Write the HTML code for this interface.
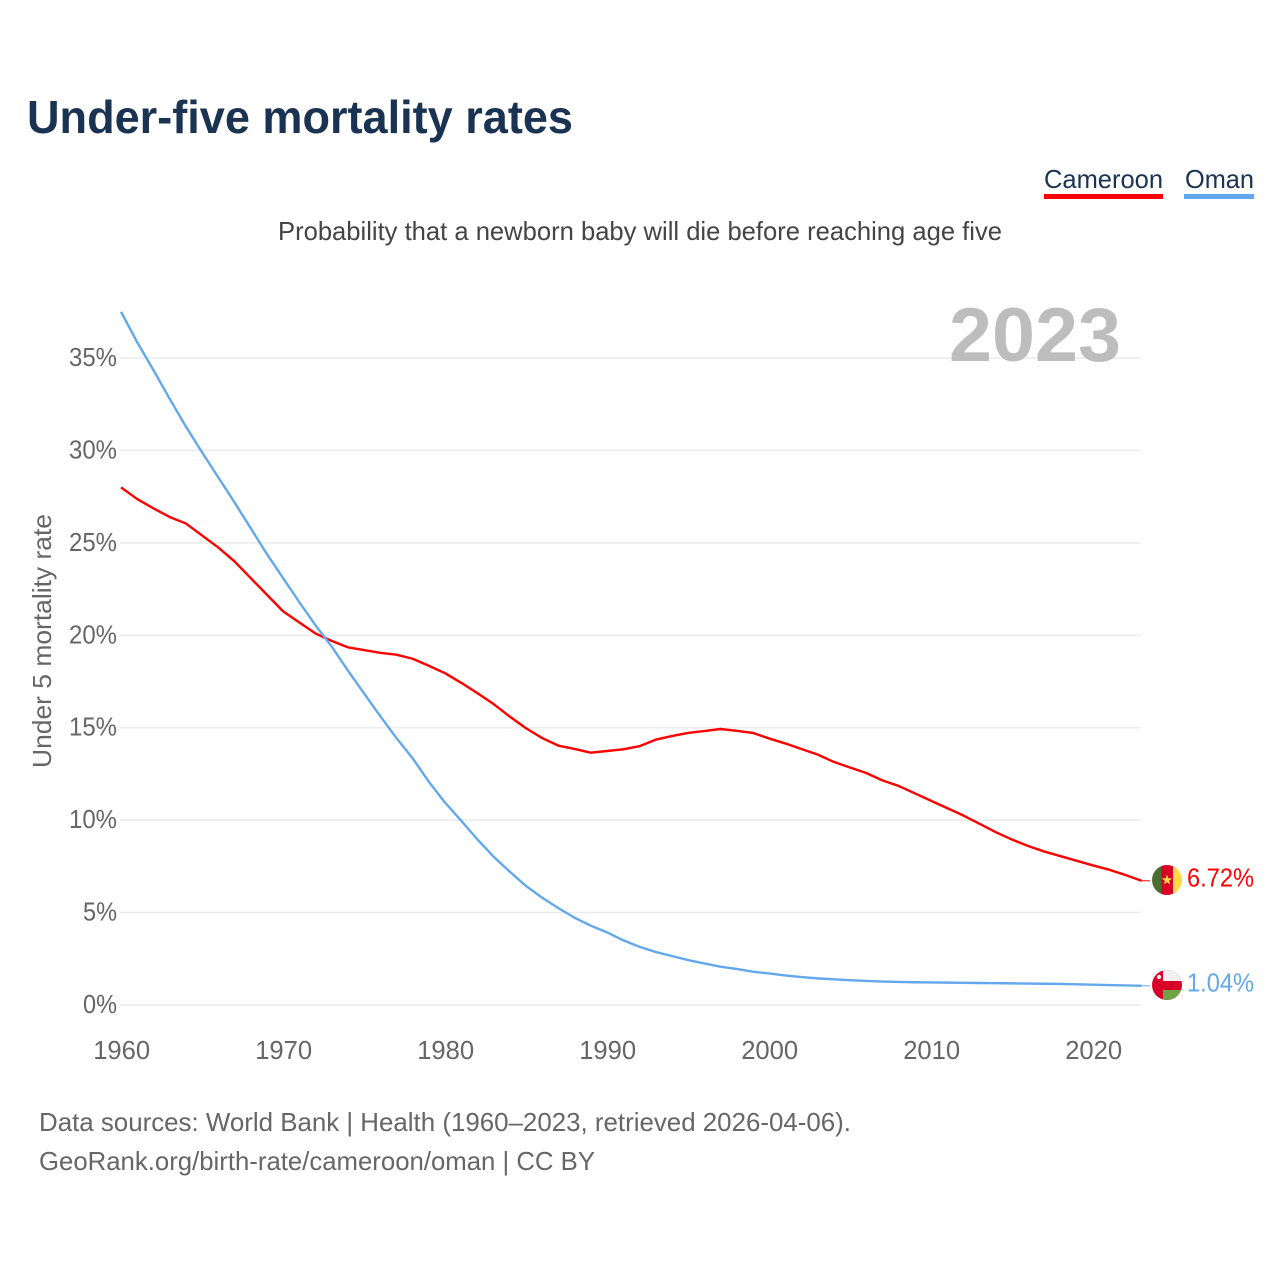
<!DOCTYPE html>
<html lang="en">
<head>
<meta charset="utf-8">
<title>Under-five mortality rates</title>
<style>
  html, body { margin: 0; padding: 0; background: #fff; }
  svg { display: block; font-family: "Liberation Sans", sans-serif; }
</style>
</head>
<body>
<svg id="chart" xmlns="http://www.w3.org/2000/svg" width="1280" height="1280" viewBox="0 0 1280 1280">
  <rect x="0" y="0" width="1280" height="1280" fill="#fff"/>
  <text x="27" y="133" font-size="46" font-weight="700" fill="#1a3352" textLength="546" lengthAdjust="spacingAndGlyphs">Under-five mortality rates</text>
  <g>
    <text x="1044" y="188" font-size="26" fill="#1a3352" textLength="119" lengthAdjust="spacingAndGlyphs">Cameroon</text>
    <rect x="1044" y="194" width="119" height="5" fill="#ff0000"/>
  </g>
  <g>
    <text x="1185" y="188" font-size="26" fill="#1a3352" textLength="69" lengthAdjust="spacingAndGlyphs">Oman</text>
    <rect x="1184" y="194" width="70" height="5" fill="#63a8ec"/>
  </g>
  <text x="278" y="240" font-size="26" fill="#444" textLength="724" lengthAdjust="spacingAndGlyphs">Probability that a newborn baby will die before reaching age five</text>
  <g id="grid"></g>
  <text x="949" y="361" font-size="76" font-weight="700" fill="#bdbdbd" textLength="172" lengthAdjust="spacingAndGlyphs">2023</text>
  <g id="yticks"></g>
  <g id="xticks"></g>
  <text transform="translate(51 768) rotate(-90)" font-size="26" fill="#666" textLength="254" lengthAdjust="spacingAndGlyphs">Under 5 mortality rate</text>
  <g id="series"></g>

  <defs>
    <clipPath id="clip-cm"><circle cx="1167" cy="880" r="15"/></clipPath>
    <clipPath id="clip-om"><circle cx="1167" cy="985" r="15"/></clipPath>
  </defs>
  <g id="flag-cameroon" clip-path="url(#clip-cm)">
    <rect x="1152" y="865" width="9.5" height="30" fill="#496e2d"/>
    <rect x="1161.5" y="865" width="11.5" height="30" fill="#d80027"/>
    <rect x="1173" y="865" width="9" height="30" fill="#ffda44"/>
    <polygon points="1167,874.5 1168.3,878.3 1172.3,878.3 1169.1,880.7 1170.3,884.5 1167,882.2 1163.7,884.5 1164.9,880.7 1161.7,878.3 1165.7,878.3" fill="#ffda44"/>
  </g>
  <g id="flag-oman" clip-path="url(#clip-om)">
    <rect x="1152" y="970" width="30" height="30" fill="#d80027"/>
    <rect x="1163" y="970" width="19" height="11" fill="#f0f0f0"/>
    <rect x="1163" y="990" width="19" height="10" fill="#6da544"/>
    <circle cx="1159" cy="977" r="2.2" fill="#f0f0f0"/>
  </g>
  <g id="end-labels"></g>
</svg>
<script>
const years = [];
for (let y = 1960; y <= 2023; y++) years.push(y);
const cameroonValues = [
  28.0, 27.37, 26.87, 26.4, 26.05, 25.4, 24.75, 24.0, 23.1, 22.2,
  21.3, 20.7, 20.1, 19.7, 19.35, 19.2, 19.05, 18.95, 18.73, 18.35,
  17.95, 17.43, 16.87, 16.28, 15.6, 14.97, 14.44, 14.03, 13.85, 13.65,
  13.74, 13.83, 14.0, 14.35, 14.55, 14.72, 14.82, 14.93, 14.83, 14.72,
  14.42, 14.15, 13.85, 13.55, 13.15, 12.85, 12.55, 12.15, 11.85, 11.45,
  11.05, 10.65, 10.25, 9.8, 9.35, 8.95, 8.6, 8.3, 8.05, 7.8,
  7.55, 7.32, 7.03, 6.72
];
const omanValues = [
  37.5, 35.85, 34.35, 32.8, 31.3, 29.9, 28.55, 27.2, 25.8, 24.4,
  23.1, 21.8, 20.55, 19.4, 18.1, 16.86, 15.63, 14.44, 13.35, 12.08,
  10.95, 9.97, 8.96, 8.02, 7.21, 6.44, 5.8, 5.24, 4.72, 4.29,
  3.93, 3.5, 3.15, 2.87, 2.65, 2.43, 2.25, 2.07, 1.95, 1.8,
  1.71, 1.6, 1.51, 1.44, 1.39, 1.34, 1.3, 1.27, 1.25, 1.23,
  1.22, 1.21, 1.2, 1.19, 1.18, 1.17, 1.16, 1.15, 1.14, 1.12,
  1.1, 1.08, 1.06, 1.04
];
const yTickValues = [0, 5, 10, 15, 20, 25, 30, 35];
const xTickValues = [1960, 1970, 1980, 1990, 2000, 2010, 2020];
const endLabelCameroon = "6.72%";
const endLabelOman = "1.04%";

const NS = "http://www.w3.org/2000/svg";
const xScale = v => 121 + (v - 1960) * 16.2;
const yScale = v => 1005 - v * 18.486;

function make(tag, parent, attrs, text) {
  const el = document.createElementNS(NS, tag);
  for (const k in attrs) el.setAttribute(k, attrs[k]);
  if (text !== undefined) el.textContent = text;
  parent.appendChild(el);
  return el;
}

const grid = document.getElementById("grid");
const yTicks = document.getElementById("yticks");
yTickValues.forEach(v => {
  const line = make("line", grid, { x1: 120, x2: 1141, y1: yScale(v), y2: yScale(v), stroke: "#ececec", "stroke-width": 1.6 });
  
  
  const label = v + "%";
  const t = make("text", yTicks, { x: 117, y: yScale(v) + 8, "text-anchor": "end", "font-size": 26, fill: "#666", textLength: label.length === 2 ? 34 : 48, lengthAdjust: "spacingAndGlyphs" }, label);
  
  
});

const xTicks = document.getElementById("xticks");
xTickValues.forEach(v => {
  const t = make("text", xTicks, { x: xScale(v) + 0.7, y: 1059, "text-anchor": "middle", "font-size": 26, fill: "#666", textLength: 57, lengthAdjust: "spacingAndGlyphs" }, String(v));
  
  
});

function pathFrom(values) {
  return values.map((v, i) => (i ? "L" : "M") + xScale(years[i]).toFixed(2) + " " + yScale(v).toFixed(2)).join(" ");
}

const series = document.getElementById("series");
const lineCameroon = make("path", series, { d: pathFrom(cameroonValues), fill: "none", stroke: "#ff0000", "stroke-width": 2.4, "stroke-linejoin": "round" });


const lineOman = make("path", series, { d: pathFrom(omanValues), fill: "none", stroke: "#63a8ec", "stroke-width": 2.4, "stroke-linejoin": "round" });



const lastIdx = years.length - 1;
const connCameroon = make("line", series, { x1: xScale(years[lastIdx]), x2: 1150, y1: yScale(cameroonValues[lastIdx]), y2: yScale(cameroonValues[lastIdx]), stroke: "#ff0000", "stroke-width": 1 });


const connOman = make("line", series, { x1: xScale(years[lastIdx]), x2: 1150, y1: yScale(omanValues[lastIdx]), y2: yScale(omanValues[lastIdx]), stroke: "#63a8ec", "stroke-width": 1 });



const endLabels = document.getElementById("end-labels");
const lblCameroon = make("text", endLabels, { x: 1187, y: yScale(cameroonValues[lastIdx]) + 5.5, "font-size": 26, fill: "#ff0000", textLength: 67, lengthAdjust: "spacingAndGlyphs" }, endLabelCameroon);


const lblOman = make("text", endLabels, { x: 1187, y: yScale(omanValues[lastIdx]) + 5.5, "font-size": 26, fill: "#63a8ec", textLength: 67, lengthAdjust: "spacingAndGlyphs" }, endLabelOman);


</script>
<svg xmlns="http://www.w3.org/2000/svg" width="1280" height="1280" viewBox="0 0 1280 1280" style="position:absolute;left:0;top:0;pointer-events:none">
  <text x="39" y="1131" font-size="26" fill="#666" textLength="812" lengthAdjust="spacingAndGlyphs">Data sources: World Bank | Health (1960–2023, retrieved 2026-04-06).</text>
  <text x="39" y="1170" font-size="26" fill="#666" textLength="556" lengthAdjust="spacingAndGlyphs">GeoRank.org/birth-rate/cameroon/oman | CC BY</text>
</svg>
</body>
</html>
